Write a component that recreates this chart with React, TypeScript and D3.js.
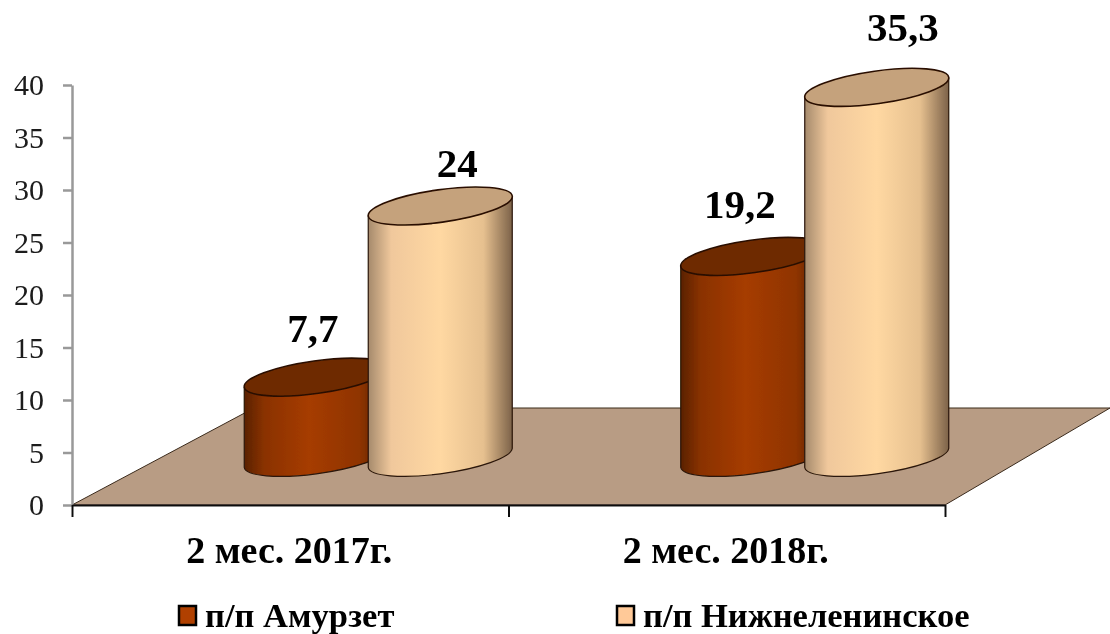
import React, { useEffect, useRef } from 'react';
import * as d3 from 'd3';

const categories = ['2 мес. 2017г.', '2 мес. 2018г.'];
const seriesNames = ['п/п Амурзет', 'п/п Нижнеленинское'];
const amurzet = [7.7, 19.2];
const nizhnelen = [24, 35.3];
const valueLabels = [['7,7', '19,2'], ['24', '35,3']];
const yTicks = [0, 5, 10, 15, 20, 25, 30, 35, 40];

const WIDTH = 1110;
const HEIGHT = 634;
const SERIF = '"Liberation Serif", serif';

const bodyStops = [
  [
    ['0%', '#5a2200'], ['14%', '#8a3200'], ['45%', '#a63c00'], ['80%', '#8f3400'], ['100%', '#4c1c00'],
  ],
  [
    ['0%', '#a58a6c'], ['16%', '#f0c89c'], ['50%', '#ffd8a2'], ['80%', '#e6c08f'], ['100%', '#7c6249'],
  ],
];
const topColors = ['#6e2b00', '#c5a27c'];
const swatchColors = ['#b04000', '#ffc998'];

// hand placed labels, same as in the source picture
const labelShift = [
  [{ dx: -3.5, dy: -35 }, { dx: -13, dy: -38 }],
  [{ dx: 17, dy: -29 }, { dx: 26, dy: -46 }],
];

const App = () => {
  const svgRef = useRef<SVGSVGElement>(null);

  useEffect(() => {
    const svg = d3.select(svgRef.current);
    svg.selectAll('*').remove();

    const left = 72;
    const right = 945;
    const floorY = 505;
    const topY = 85;

    const y = d3.scaleLinear().domain([0, 40]).range([floorY, topY]);
    const x = d3.scaleBand().domain(categories).range([left, right]);
    const xEdges = d3.scaleLinear().domain([0, 2]).range([left, right]);

    const defs = svg.append('defs');
    defs.append('filter').attr('id', 'soft')
      .append('feGaussianBlur').attr('stdDeviation', 0.55);

    bodyStops.forEach((stops, i) => {
      const grad = defs.append('linearGradient').attr('id', `body${i}`)
        .attr('x1', 0).attr('x2', 1).attr('y1', 0).attr('y2', 0);
      stops.forEach(s => grad.append('stop').attr('offset', s[0]).attr('stop-color', s[1]));
    });

    const root = svg.append('g').attr('filter', 'url(#soft)');

    // Floor
    const depthY = 97;
    const floor = d3.path();
    floor.moveTo(left, floorY);
    floor.lineTo(right, floorY);
    floor.lineTo(right + 165, floorY - depthY);
    floor.lineTo(left + 182, floorY - depthY);
    floor.closePath();
    root.append('path').attr('d', floor.toString())
      .attr('fill', '#b89c84').attr('stroke', '#3a2a1c').attr('stroke-width', 1);

    // Axes
    const yAxis = root.append('g')
      .attr('transform', `translate(${left},0)`)
      .call(d3.axisLeft(y).tickValues(yTicks).tickSize(9).tickSizeOuter(0).tickPadding(19));
    yAxis.selectAll('path, line').attr('stroke', '#999').attr('stroke-width', 2.5);
    yAxis.selectAll('text')
      .style('font-family', SERIF).style('font-size', '30px').attr('fill', '#1a1a1a');

    const xAxis = root.append('g')
      .attr('transform', `translate(0,${floorY})`)
      .call(d3.axisBottom(xEdges).tickValues([0, 1, 2]).tickFormat(() => '').tickSize(12).tickSizeOuter(0));
    xAxis.selectAll('path, line').attr('stroke', '#111').attr('stroke-width', 2);

    // Cylinders
    const a = 72.7;
    const b = 16.3;
    const rot = -7.9;
    const halfW = 72;
    const tilt = 9.5;
    const depthLift = 47;
    const depthShift = 88;
    const seriesGap = 62;
    const baseC = y(0) - depthLift;

    const drawBar = (value: number, catIdx: number, serIdx: number) => {
      const cx = x(categories[catIdx]) + x.bandwidth() / 2 + depthShift + (serIdx === 0 ? -seriesGap : seriesGap);
      const topC = y(value) - depthLift;
      const body = `M${cx - halfW},${topC + tilt}`
        + `L${cx - halfW},${baseC + tilt}`
        + `A${a},${b} ${rot} 0 0 ${cx + halfW},${baseC - tilt}`
        + `L${cx + halfW},${topC - tilt}`
        + `A${a},${b} ${rot} 0 1 ${cx - halfW},${topC + tilt}Z`;
      root.append('path').attr('d', body)
        .attr('fill', `url(#body${serIdx})`)
        .attr('stroke', '#2a1608').attr('stroke-width', 1.2);
      root.append('ellipse')
        .attr('rx', a).attr('ry', b)
        .attr('transform', `translate(${cx},${topC}) rotate(${rot})`)
        .attr('fill', topColors[serIdx])
        .attr('stroke', '#2a1000').attr('stroke-width', 1.6);

      const shift = labelShift[serIdx][catIdx];
      root.append('text')
        .attr('x', cx + shift.dx).attr('y', topC + shift.dy)
        .attr('text-anchor', 'middle')
        .style('font-family', SERIF).style('font-size', '41px').style('font-weight', 'bold')
        .attr('fill', '#000')
        .text(valueLabels[serIdx][catIdx]);
    };

    categories.forEach((_, i) => {
      drawBar(amurzet[i], i, 0);
      drawBar(nizhnelen[i], i, 1);
    });

    // Category labels
    categories.forEach(c => {
      root.append('text')
        .attr('x', x(c) + x.bandwidth() / 2 - 1).attr('y', 563)
        .attr('text-anchor', 'middle')
        .style('font-family', SERIF).style('font-size', '38px').style('font-weight', 'bold')
        .attr('fill', '#000')
        .text(c);
    });

    // Legend
    const legendX = [178, 616];
    seriesNames.forEach((name, i) => {
      root.append('rect')
        .attr('x', legendX[i] + 1).attr('y', 606).attr('width', 17).attr('height', 19)
        .attr('fill', swatchColors[i]).attr('stroke', '#000').attr('stroke-width', 2.5);
      root.append('text')
        .attr('x', legendX[i] + 27).attr('y', 627)
        .style('font-family', SERIF).style('font-size', '34.5px').style('font-weight', 'bold')
        .attr('fill', '#000')
        .text(name);
    });
  }, []);

  return (
    <svg
      ref={svgRef}
      width={WIDTH}
      height={HEIGHT}
      viewBox={`0 0 ${WIDTH} ${HEIGHT}`}
      style={{ position: 'absolute', left: 0, top: 0, background: '#fff', overflow: 'hidden' }}
    />
  );
};

export default App;
